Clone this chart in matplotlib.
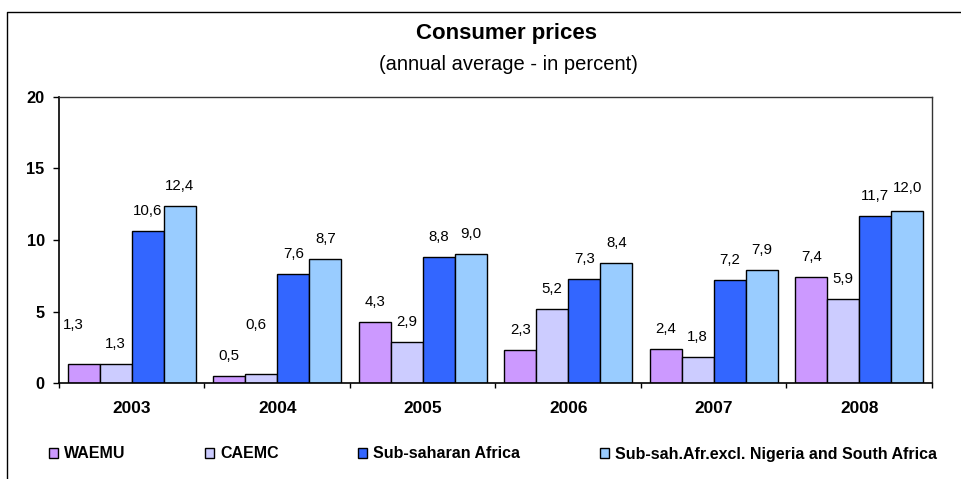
import numpy as np
import matplotlib.pyplot as plt
from matplotlib.patches import Rectangle
from matplotlib.lines import Line2D

years = ["2003", "2004", "2005", "2006", "2007", "2008"]
series_names = ["WAEMU", "CAEMC", "Sub-saharan Africa",
                "Sub-sah.Afr.excl. Nigeria and South Africa"]
waemu = [1.3, 0.5, 4.3, 2.3, 2.4, 7.4]
caemc = [1.3, 0.6, 2.9, 5.2, 1.8, 5.9]
ssa = [10.6, 7.6, 8.8, 7.3, 7.2, 11.7]
ssa_excl = [12.4, 8.7, 9.0, 8.4, 7.9, 12.0]
colors = ["#CC99FF", "#CCCCFF", "#3366FF", "#99CCFF"]

# label nudges (pixels) for the few labels placed by hand in the original
nudges = {(0, 0): (-10, 39), (1, 1): (-5, 49), (5, 3): (0, 23)}

plt.rcParams["font.family"] = ["Liberation Sans", "DejaVu Sans"]

fig = plt.figure(figsize=(9.62, 4.79), dpi=100)
ax = fig.add_axes([59 / 962, 96 / 479, 873 / 962, 286 / 479])

x = np.arange(len(years))
w = 0.22
px = 72 / 100
all_series = [waemu, caemc, ssa, ssa_excl]
for i, vals in enumerate(all_series):
    pos = x + (i - 1.5) * w
    ax.bar(pos, vals, w, color=colors[i], edgecolor="black", linewidth=1,
           label=series_names[i], zorder=2)
    for j, v in enumerate(vals):
        dx, dy = nudges.get((j, i), (0, 20))
        ax.annotate(f"{v:.1f}".replace(".", ","), (pos[j], v),
                    xytext=(dx * px, dy * px), textcoords="offset points",
                    ha="center", va="center", fontsize=10.8)

ax.set_xlim(-0.5, len(years) - 0.5)
ax.set_ylim(0, 20)
ax.set_yticks([0, 5, 10, 15, 20])
ax.tick_params(axis="y", direction="out", length=6 * px, width=1,
               labelsize=11.8, pad=6)
for t in ax.get_yticklabels():
    t.set_fontweight("bold")

ax.set_xticks(x)
ax.set_xticklabels(years, fontweight="bold", fontsize=12.4)
ax.tick_params(axis="x", which="major", length=0, pad=13)
ax.set_xticks(np.arange(-0.5, len(years)), minor=True)
ax.tick_params(axis="x", which="minor", direction="out", length=5 * px, width=1)

for s in ["left", "bottom"]:
    ax.spines[s].set_linewidth(1.2)
    ax.spines[s].set_color("black")
for s in ["top", "right"]:
    ax.spines[s].set_linewidth(1)
    ax.spines[s].set_color("#333333")

fig.text(507 / 962, 1 - 33 / 479, "Consumer prices", ha="center", va="center",
         fontsize=16, fontweight="bold")
fig.text(508 / 962, 1 - 65 / 479, "(annual average - in percent)", ha="center",
         va="center", fontsize=14.5)

handles = [Rectangle((0, 0), 1, 1, facecolor=c, edgecolor="black", linewidth=1)
           for c in colors]
leg = fig.legend(handles, series_names, loc="center left",
                 bbox_to_anchor=(49 / 962, 1 - 454 / 479), ncol=4, frameon=False,
                 handlelength=0.55, handleheight=0.55, handletextpad=0.4,
                 columnspacing=4.97, borderaxespad=0, borderpad=0,
                 prop={"weight": "bold", "size": 11.5})

# outer chart frame
fig.add_artist(Line2D([7 / 962, 7 / 962, 1], [0, 1 - 12 / 479, 1 - 12 / 479],
                      transform=fig.transFigure, color="black", linewidth=1))

fig.savefig("out.png", dpi=100)
